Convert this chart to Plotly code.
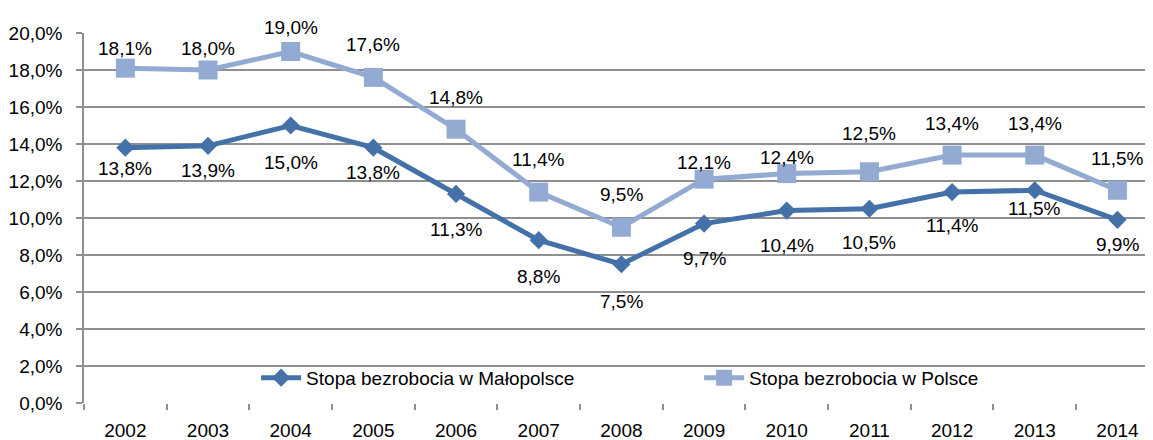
import plotly.graph_objects as go

years = ["2002", "2003", "2004", "2005", "2006", "2007", "2008", "2009", "2010", "2011", "2012", "2013", "2014"]
malopolska = [13.8, 13.9, 15.0, 13.8, 11.3, 8.8, 7.5, 9.7, 10.4, 10.5, 11.4, 11.5, 9.9]
polska = [18.1, 18.0, 19.0, 17.6, 14.8, 11.4, 9.5, 12.1, 12.4, 12.5, 13.4, 13.4, 11.5]
y_ticks = [0, 2, 4, 6, 8, 10, 12, 14, 16, 18, 20]

# label placement (pixel shift of each data label from its point, as placed in the original)
malopolska_label_shift = [-21, -25, -37, -25, -36, -36, -37, -35, -35, -34, -33, -18, -25]
polska_label_shift = [20, 22, 24, 33, 32, 33, 33, 17, 16, 38, 32, 32, 32]

FONT = "Liberation Sans, Arial, sans-serif"
DARK = "#4471A8"
LIGHT = "#93AAD2"
GRID = "#8F8F8F"


def fmt(v):
    return f"{v:.1f}".replace(".", ",") + "%"


fig = go.Figure()
fig.add_trace(go.Scatter(
    x=years, y=[v / 100 for v in malopolska], mode="lines+markers",
    name="Stopa bezrobocia w Małopolsce",
    line=dict(color=DARK, width=5),
    marker=dict(symbol="diamond", size=14, color=DARK),
    cliponaxis=False,
))
fig.add_trace(go.Scatter(
    x=years, y=[v / 100 for v in polska], mode="lines+markers",
    name="Stopa bezrobocia w Polsce",
    line=dict(color=LIGHT, width=5),
    marker=dict(symbol="square", size=19, color=LIGHT),
    cliponaxis=False,
))

# data labels: x is the category's position on the category axis
for series, shifts in ((malopolska, malopolska_label_shift), (polska, polska_label_shift)):
    for i, (v, s) in enumerate(zip(series, shifts)):
        fig.add_annotation(
            x=i, y=v / 100, xref="x", yref="y", text=fmt(v), showarrow=False,
            yshift=s, font=dict(family=FONT, size=19, color="#000000"),
        )

# The page body adds an 8px offset; the figure is sized so the plot lands where the reference has it.
fig.update_layout(
    width=1145, height=432,
    margin=dict(l=76, r=0, t=25, b=37),
    paper_bgcolor="white", plot_bgcolor="white",
    separators=", ",
    font=dict(family=FONT, size=19, color="#000000"),
    showlegend=True,
    legend=dict(
        orientation="h", x=0.161, xanchor="left", y=0.068, yanchor="middle",
        bgcolor="rgba(0,0,0,0)", entrywidth=388, entrywidthmode="pixels",
        font=dict(family=FONT, size=19, color="#000000"),
        itemwidth=40,
    ),
    xaxis=dict(
        type="category", range=[-0.5, 12.43], showgrid=False,
        showline=False, zeroline=False, automargin=False,
        ticks="outside", ticklen=6, tickcolor=GRID, tickwidth=1.5,
        tickson="boundaries", ticklabelstandoff=14,
        tickfont=dict(family=FONT, size=19),
    ),
    yaxis=dict(
        range=[0, 0.2], tickvals=[v / 100 for v in y_ticks], tickformat=".1%",
        showgrid=True, gridcolor=GRID, gridwidth=1.5,
        showline=True, linecolor=GRID, linewidth=1.5,
        zeroline=False, automargin=False,
        ticks="outside", ticklen=6, tickcolor=GRID, tickwidth=1.5,
        ticklabelstandoff=10,
        tickfont=dict(family=FONT, size=19),
    ),
)

fig.write_html("out.html")
